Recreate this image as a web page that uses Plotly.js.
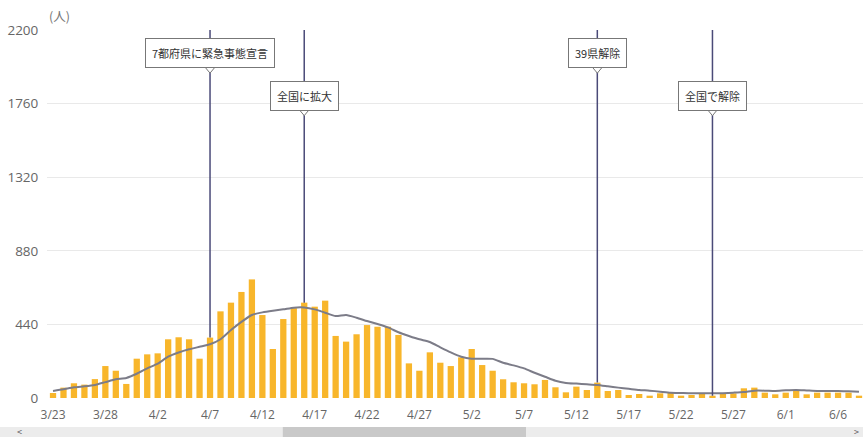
<!DOCTYPE html>
<html>
<head>
<meta charset="utf-8">
<script src="https://cdn.plot.ly/plotly-3.0.1.min.js"></script>
<style>html,body{margin:0;padding:0;background:#fff;}#chart{width:863px;height:437px;}</style>
</head>
<body>
<div id="chart"></div>
<script>
const dates = [
  '2020-03-23','2020-03-24','2020-03-25','2020-03-26','2020-03-27','2020-03-28','2020-03-29','2020-03-30','2020-03-31',
  '2020-04-01','2020-04-02','2020-04-03','2020-04-04','2020-04-05','2020-04-06','2020-04-07','2020-04-08','2020-04-09','2020-04-10',
  '2020-04-11','2020-04-12','2020-04-13','2020-04-14','2020-04-15','2020-04-16','2020-04-17','2020-04-18','2020-04-19','2020-04-20',
  '2020-04-21','2020-04-22','2020-04-23','2020-04-24','2020-04-25','2020-04-26','2020-04-27','2020-04-28','2020-04-29','2020-04-30',
  '2020-05-01','2020-05-02','2020-05-03','2020-05-04','2020-05-05','2020-05-06','2020-05-07','2020-05-08','2020-05-09','2020-05-10',
  '2020-05-11','2020-05-12','2020-05-13','2020-05-14','2020-05-15','2020-05-16','2020-05-17','2020-05-18','2020-05-19','2020-05-20',
  '2020-05-21','2020-05-22','2020-05-23','2020-05-24','2020-05-25','2020-05-26','2020-05-27','2020-05-28','2020-05-29','2020-05-30','2020-05-31',
  '2020-06-01','2020-06-02','2020-06-03','2020-06-04','2020-06-05','2020-06-06','2020-06-07','2020-06-08'
];
const dailyCases = [
  30,62,88,80,113,191,163,84,235,
  261,267,351,363,351,235,361,518,570,634,
  709,496,293,472,537,570,546,582,371,337,
  381,436,426,426,377,207,163,273,211,191,
  243,293,197,163,112,94,88,82,108,64,
  34,68,48,92,42,48,18,24,14,28,
  32,14,18,24,14,28,28,58,62,32,22,
  32,44,22,32,32,32,32,14
];
const weeklyAverage = [
  42,52,64,70,78,95,112,120,145,
  177,205,247,272,291,306,321,351,406,455,
  496,512,522,530,540,541,530,510,490,496,
  480,460,442,422,393,371,351,335,303,273,
  247,235,235,234,211,195,177,151,127,103,
  90,86,82,78,70,62,55,48,44,38,
  32,30,28,28,28,29,32,36,44,44,42,
  46,48,45,42,42,42,40,38
];
const yTicks = [0, 440, 880, 1320, 1760, 2200];
const eventDates = ['2020-04-07', '2020-04-16', '2020-05-14', '2020-05-25'];
const eventLabels = ['7都府県に緊急事態宣言', '全国に拡大', '39県解除', '全国で解除'];
const unitLabel = '(人)';

// styling / placement
const Y_MAX = 2200;
const labelLevels = [1972, 1718, 1972, 1718];
const FONT = '"Noto Sans CJK JP", "Noto Sans", sans-serif';

const traces = [
  {
    type: 'bar', x: dates, y: dailyCases,
    marker: {color: '#f8b62b'},
    hoverinfo: 'x+y'
  },
  {
    type: 'scatter', mode: 'lines', x: dates, y: weeklyAverage,
    line: {color: '#7c7c88', width: 2, shape: 'spline', smoothing: 0.6},
    hoverinfo: 'x+y'
  }
];

const shapes = [];
const annotations = [];
eventDates.forEach((d, i) => {
  const idx = dates.indexOf(d);
  shapes.push({
    type: 'line', xref: 'x', yref: 'y',
    x0: d, x1: d, y0: dailyCases[idx], y1: Y_MAX,
    line: {color: '#4a4a78', width: 1.5}, layer: 'above'
  });
  annotations.push({
    xref: 'x', yref: 'y', x: d, y: labelLevels[i],
    xanchor: 'center', yanchor: 'bottom',
    text: eventLabels[i], showarrow: false,
    font: {family: FONT, size: 11, color: '#333'},
    bgcolor: '#ffffff', bordercolor: '#777', borderwidth: 1, borderpad: 6
  });
  shapes.push({
    type: 'path', xref: 'x', yref: 'y',
    xsizemode: 'pixel', ysizemode: 'pixel',
    xanchor: d, yanchor: labelLevels[i],
    path: 'M-5,1 L0,-5 L5,1 Z',
    fillcolor: '#ffffff', line: {color: '#777', width: 1}, layer: 'above'
  });
});

// unit label
annotations.push({
  xref: 'paper', yref: 'paper', x: 0, y: 1, xanchor: 'left', yanchor: 'bottom',
  yshift: 3, text: unitLabel, showarrow: false,
  font: {family: FONT, size: 12.5, color: '#777'}
});

// scrollbar (decorative)
shapes.push({type: 'rect', xref: 'paper', yref: 'paper', x0: -0.06, x1: 1.01, y0: -0.106, y1: -0.079,
  fillcolor: '#ececec', line: {width: 0}, layer: 'above'});
shapes.push({type: 'rect', xref: 'paper', yref: 'paper', x0: 0.289, x1: 0.587, y0: -0.106, y1: -0.079,
  fillcolor: '#c9c9c9', line: {width: 0}, layer: 'above'});
annotations.push({xref: 'paper', yref: 'paper', x: -0.034, y: -0.091, xanchor: 'center', yanchor: 'middle',
  text: '<', showarrow: false, borderpad: 0, font: {family: FONT, size: 9, color: '#555'}});
annotations.push({xref: 'paper', yref: 'paper', x: 0.992, y: -0.091, xanchor: 'center', yanchor: 'middle',
  text: '>', showarrow: false, borderpad: 0, font: {family: FONT, size: 9, color: '#555'}});

const layout = {
  width: 863, height: 437,
  margin: {l: 47, r: 0, t: 30, b: 39},
  paper_bgcolor: '#ffffff', plot_bgcolor: '#ffffff',
  showlegend: false,
  bargap: 0.4,
  font: {family: FONT, color: '#666'},
  xaxis: {
    type: 'date',
    range: ['2020-03-22 10:12', '2020-06-08 09:10'],
    tick0: '2020-03-23', dtick: 5 * 86400000,
    tickformat: '%-m/%-d',
    showgrid: false, zeroline: false, showline: false,
    ticks: 'outside', ticklen: 6, tickcolor: 'rgba(0,0,0,0)',
    tickfont: {family: 'Open Sans, sans-serif', size: 12, color: '#666'}
  },
  yaxis: {
    range: [0, Y_MAX],
    tickvals: yTicks,
    gridcolor: '#e9e9e9', gridwidth: 1,
    zeroline: false, showline: false,
    ticks: 'outside', ticklen: 5, tickcolor: 'rgba(0,0,0,0)',
    tickfont: {family: 'Open Sans, sans-serif', size: 13.5, color: '#666'}
  },
  shapes: shapes,
  annotations: annotations
};

Plotly.newPlot('chart', traces, layout, {displayModeBar: false, staticPlot: true});
</script>
</body>
</html>
